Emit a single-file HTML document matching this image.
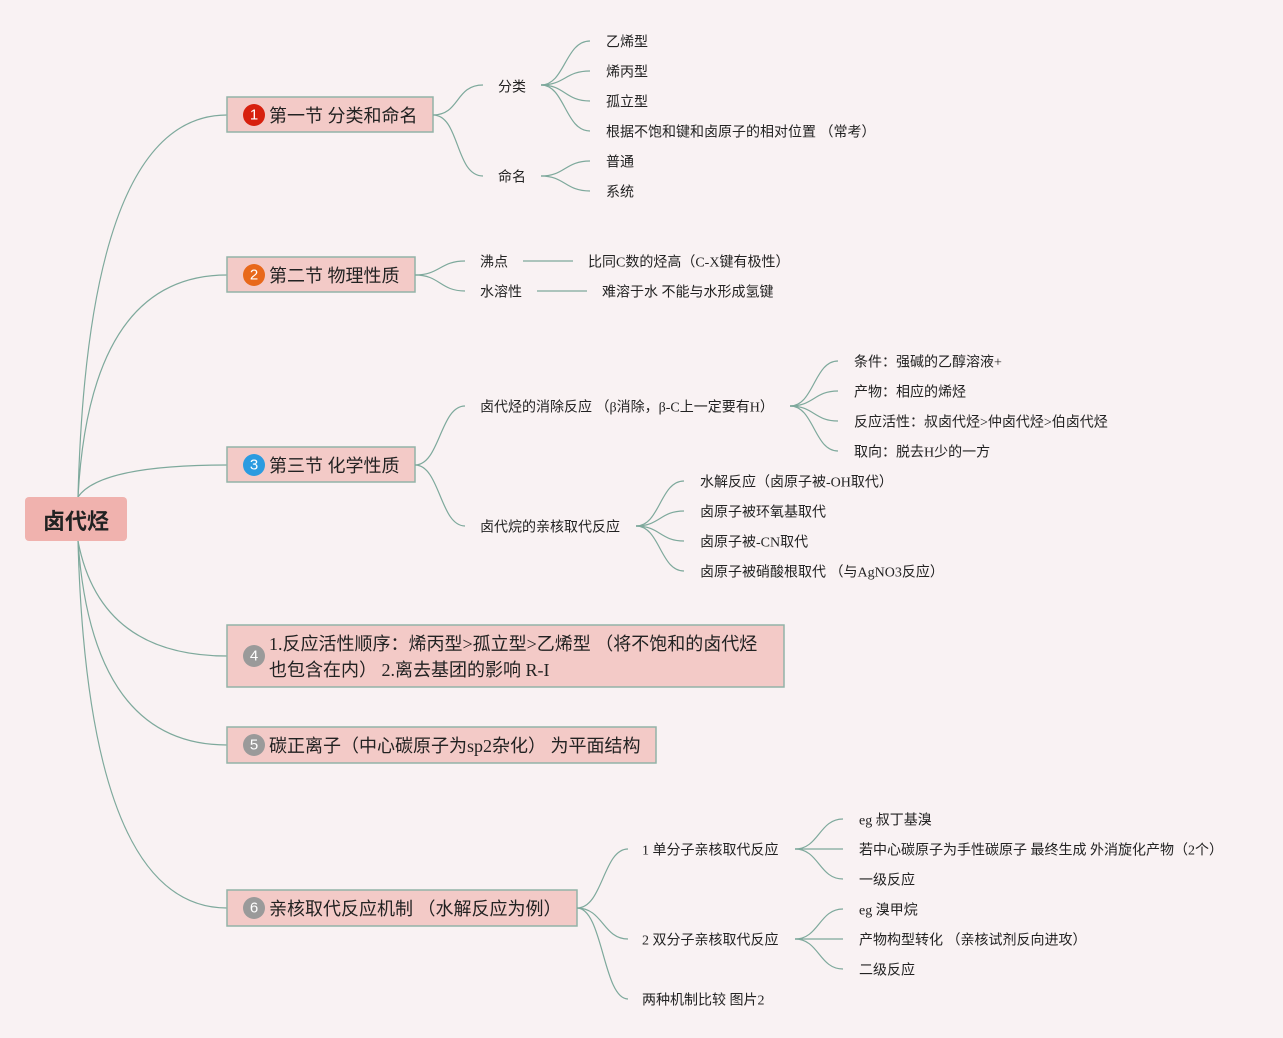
<!DOCTYPE html>
<html><head><meta charset="utf-8"><style>
html,body{margin:0;padding:0;background:#f9f2f3;}
svg{display:block;}
text{font-family:"Liberation Serif","Noto Sans CJK SC",sans-serif;fill:#222;dominant-baseline:central;}
.s{font-size:14px;transform:translateY(2px);}
.b{font-size:18px;}
.n{font-size:15px;fill:#fff;text-anchor:middle;font-family:"Liberation Sans",sans-serif;}
path{fill:none;stroke:#7ea99c;stroke-width:1.2;}
rect.box{fill:#f3cac7;stroke:#93b3a8;stroke-width:1.5;}
</style></head><body>
<svg width="1283" height="1038" viewBox="0 0 1283 1038">
<path d="M78,497 Q88,115 227,115"/>
<path d="M78,497 Q90,275 227,275"/>
<path d="M78,497 Q100,465 227,465"/>
<path d="M78,541 Q100,656 227,656"/>
<path d="M78,541 Q92,745 227,745"/>
<path d="M78,541 Q88,908 227,908"/>
<rect x="25" y="497" width="102" height="44" rx="4" fill="#f0b2ae"/>
<text x="76" y="520" style="font-size:22px;font-weight:bold;text-anchor:middle;font-family:'Noto Sans CJK SC',sans-serif">卤代烃</text>

<rect class="box" x="227" y="97" width="206" height="35"/>
<circle cx="254" cy="115" r="11" fill="#d7200e"/><text class="n" x="254" y="115">1</text>
<text class="b" x="269" y="116">第一节 分类和命名</text>
<path d="M433,115 C460,115 455,85 483,85"/>
<path d="M433,115 C460,115 455,176 483,176"/>
<text class="s" x="498" y="86">分类</text>
<text class="s" x="498" y="176">命名</text>
<path d="M541,85 C565,85 565,41 590,41"/>
<path d="M541,85 C565,85 565,71 590,71"/>
<path d="M541,85 C565,85 565,101 590,101"/>
<path d="M541,85 C565,85 565,131 590,131"/>
<text class="s" x="606" y="41">乙烯型</text>
<text class="s" x="606" y="71">烯丙型</text>
<text class="s" x="606" y="101">孤立型</text>
<text class="s" x="606" y="131">根据不饱和键和卤原子的相对位置 （常考）</text>
<path d="M541,176 C565,176 565,161 590,161"/>
<path d="M541,176 C565,176 565,191 590,191"/>
<text class="s" x="606" y="161">普通</text>
<text class="s" x="606" y="191">系统</text>

<rect class="box" x="227" y="257" width="188" height="35"/>
<circle cx="254" cy="275" r="11" fill="#e8681b"/><text class="n" x="254" y="275">2</text>
<text class="b" x="269" y="276">第二节 物理性质</text>
<path d="M415,275 C440,275 440,261 465,261"/>
<path d="M415,275 C440,275 440,291 465,291"/>
<text class="s" x="480" y="261">沸点</text>
<text class="s" x="480" y="291">水溶性</text>
<path d="M523,261 L573,261"/>
<path d="M537,291 L587,291"/>
<text class="s" x="588" y="261">比同C数的烃高（C-X键有极性）</text>
<text class="s" x="602" y="291">难溶于水 不能与水形成氢键</text>

<rect class="box" x="227" y="447" width="188" height="35"/>
<circle cx="254" cy="465" r="11" fill="#2b9be0"/><text class="n" x="254" y="465">3</text>
<text class="b" x="269" y="466">第三节 化学性质</text>
<path d="M415,465 C440,465 440,406 465,406"/>
<path d="M415,465 C440,465 440,526 465,526"/>
<text class="s" x="480" y="406">卤代烃的消除反应 （β消除，β-C上一定要有H）</text>
<text class="s" x="480" y="526">卤代烷的亲核取代反应</text>
<path d="M790,406 C814,406 814,361 838,361"/>
<path d="M790,406 C814,406 814,391 838,391"/>
<path d="M790,406 C814,406 814,421 838,421"/>
<path d="M790,406 C814,406 814,451 838,451"/>
<text class="s" x="854" y="361">条件：强碱的乙醇溶液+</text>
<text class="s" x="854" y="391">产物：相应的烯烃</text>
<text class="s" x="854" y="421">反应活性：叔卤代烃&gt;仲卤代烃&gt;伯卤代烃</text>
<text class="s" x="854" y="451">取向：脱去H少的一方</text>
<path d="M636,526 C660,526 660,481 684,481"/>
<path d="M636,526 C660,526 660,511 684,511"/>
<path d="M636,526 C660,526 660,541 684,541"/>
<path d="M636,526 C660,526 660,571 684,571"/>
<text class="s" x="700" y="481">水解反应（卤原子被-OH取代）</text>
<text class="s" x="700" y="511">卤原子被环氧基取代</text>
<text class="s" x="700" y="541">卤原子被-CN取代</text>
<text class="s" x="700" y="571">卤原子被硝酸根取代 （与AgNO3反应）</text>

<rect class="box" x="227" y="625" width="557" height="62"/>
<circle cx="254" cy="656" r="11" fill="#9a9a9a"/><text class="n" x="254" y="656">4</text>
<text class="b" x="269" y="644">1.反应活性顺序：烯丙型&gt;孤立型&gt;乙烯型 （将不饱和的卤代烃</text>
<text class="b" x="269" y="670">也包含在内） 2.离去基团的影响 R-I</text>

<rect class="box" x="227" y="727" width="429" height="36"/>
<circle cx="254" cy="745" r="11" fill="#9a9a9a"/><text class="n" x="254" y="745">5</text>
<text class="b" x="269" y="746">碳正离子（中心碳原子为sp2杂化） 为平面结构</text>

<rect class="box" x="227" y="890" width="350" height="36"/>
<circle cx="254" cy="908" r="11" fill="#9a9a9a"/><text class="n" x="254" y="908">6</text>
<text class="b" x="269" y="909">亲核取代反应机制 （水解反应为例）</text>
<path d="M577,908 C603,908 603,849 628,849"/>
<path d="M577,908 C603,908 603,939 628,939"/>
<path d="M577,908 C603,908 603,999 628,999"/>
<text class="s" x="642" y="849">1 单分子亲核取代反应</text>
<text class="s" x="642" y="939">2 双分子亲核取代反应</text>
<text class="s" x="642" y="999">两种机制比较 图片2</text>
<path d="M795,849 C819,849 819,819 843,819"/>
<path d="M795,849 C819,849 819,849 843,849"/>
<path d="M795,849 C819,849 819,879 843,879"/>
<text class="s" x="859" y="819">eg 叔丁基溴</text>
<text class="s" x="859" y="849">若中心碳原子为手性碳原子 最终生成 外消旋化产物（2个）</text>
<text class="s" x="859" y="879">一级反应</text>
<path d="M795,939 C819,939 819,909 843,909"/>
<path d="M795,939 C819,939 819,939 843,939"/>
<path d="M795,939 C819,939 819,969 843,969"/>
<text class="s" x="859" y="909">eg 溴甲烷</text>
<text class="s" x="859" y="939">产物构型转化 （亲核试剂反向进攻）</text>
<text class="s" x="859" y="969">二级反应</text>
</svg>
</body></html>
